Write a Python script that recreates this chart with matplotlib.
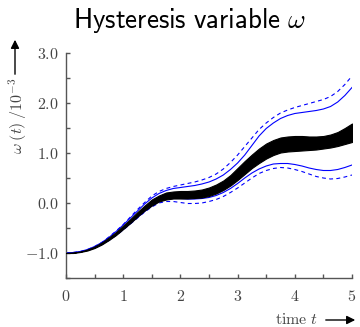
import matplotlib
matplotlib.use("Agg")
import matplotlib.pyplot as plt
import numpy as np
from matplotlib.patches import FancyArrowPatch
from matplotlib.ticker import FuncFormatter, MultipleLocator

plt.rcParams['mathtext.fontset'] = 'cm'

# sample times and curves (in units of 10^-3)
t = np.arange(0, 5.001, 0.125)
band_lo = [-1.0, -1.0, -0.98, -0.95, -0.90, -0.83, -0.74, -0.64, -0.52, -0.40, -0.27,
           -0.15, -0.05, 0.03, 0.07, 0.09, 0.09, 0.09, 0.10, 0.11, 0.14, 0.19, 0.26,
           0.35, 0.46, 0.58, 0.70, 0.80, 0.89, 0.96, 1.01, 1.03, 1.04, 1.05, 1.06,
           1.07, 1.09, 1.11, 1.14, 1.18, 1.22]
band_hi = [-1.0, -0.99, -0.97, -0.93, -0.87, -0.79, -0.69, -0.58, -0.45, -0.32, -0.18,
           -0.05, 0.07, 0.15, 0.21, 0.23, 0.24, 0.24, 0.25, 0.27, 0.31, 0.37, 0.45,
           0.56, 0.70, 0.84, 0.97, 1.09, 1.19, 1.26, 1.31, 1.33, 1.34, 1.34, 1.33,
           1.33, 1.34, 1.37, 1.42, 1.50, 1.59]
upper_solid = [-1.0, -0.99, -0.97, -0.93, -0.87, -0.79, -0.69, -0.57, -0.44, -0.30,
               -0.16, -0.02, 0.10, 0.19, 0.25, 0.29, 0.31, 0.33, 0.35, 0.38, 0.42,
               0.48, 0.56, 0.67, 0.80, 0.96, 1.15, 1.34, 1.49, 1.60, 1.69, 1.75, 1.79,
               1.81, 1.83, 1.85, 1.88, 1.93, 2.02, 2.15, 2.31]
upper_dash = [-1.0, -0.99, -0.97, -0.93, -0.87, -0.79, -0.68, -0.56, -0.43, -0.28,
              -0.13, 0.01, 0.14, 0.23, 0.29, 0.33, 0.36, 0.39, 0.42, 0.46, 0.51, 0.58,
              0.68, 0.81, 0.96, 1.13, 1.30, 1.47, 1.60, 1.71, 1.80, 1.86, 1.91, 1.95,
              1.99, 2.03, 2.07, 2.13, 2.23, 2.37, 2.54]
lower_solid = [-1.0, -1.0, -0.98, -0.95, -0.90, -0.83, -0.74, -0.64, -0.53, -0.41,
               -0.29, -0.17, -0.06, 0.03, 0.08, 0.09, 0.09, 0.08, 0.08, 0.09, 0.11,
               0.15, 0.21, 0.29, 0.39, 0.50, 0.60, 0.68, 0.74, 0.78, 0.79, 0.79, 0.77,
               0.74, 0.70, 0.67, 0.65, 0.65, 0.67, 0.71, 0.76]
lower_dash = [-1.0, -1.0, -0.98, -0.95, -0.90, -0.83, -0.75, -0.65, -0.54, -0.42,
              -0.30, -0.18, -0.08, 0.0, 0.03, 0.03, 0.01, -0.01, -0.01, 0.0, 0.03,
              0.07, 0.13, 0.21, 0.30, 0.40, 0.50, 0.59, 0.65, 0.69, 0.71, 0.70, 0.67,
              0.63, 0.58, 0.53, 0.50, 0.48, 0.49, 0.52, 0.56]

spine_col = '#555555'
label_col = '#444444'

fig = plt.figure(figsize=(3.6, 3.27), dpi=100)
ax = fig.add_axes([66 / 360, 1 - 278 / 327, (352 - 66) / 360, (278 - 53) / 327])

# sample-path band drawn over the bounds, so they only show outside it
ax.plot(t, upper_solid, color='#0000ff', lw=0.8, zorder=2)
ax.plot(t, lower_solid, color='#0000ff', lw=0.8, zorder=2)
ax.plot(t, upper_dash, color='#0000ff', lw=0.8, dashes=(3.5, 3), zorder=2)
ax.plot(t, lower_dash, color='#0000ff', lw=0.8, dashes=(3.5, 3), zorder=2)
ax.fill_between(t, band_lo, band_hi, color='black', lw=0.8, zorder=3)

ax.set_xlim(0, 5)
ax.set_ylim(-1.5, 3.0)
for s in ['top', 'right']:
    ax.spines[s].set_visible(False)
for s in ['left', 'bottom']:
    ax.spines[s].set_color(spine_col)
    ax.spines[s].set_linewidth(1.0)

ax.xaxis.set_major_locator(MultipleLocator(1))
ax.xaxis.set_minor_locator(MultipleLocator(0.5))
ax.yaxis.set_major_locator(MultipleLocator(1))
ax.yaxis.set_minor_locator(MultipleLocator(0.5))
ax.xaxis.set_major_formatter(FuncFormatter(lambda v, p: f'${v:.0f}$'))
ax.yaxis.set_major_formatter(FuncFormatter(lambda v, p: f'${v:.1f}$'))
ax.tick_params(which='both', direction='in', length=3, width=1.0, color=spine_col,
               labelcolor=label_col, labelsize=11.5)
ax.tick_params(axis='y', pad=5)
ax.tick_params(axis='x', pad=8)

fig.text(190 / 360, 1 - 28 / 327, r'$\mathsf{Hysteresis\ variable}\ \omega$',
         ha='center', va='baseline', fontsize=19.5)

# y label with arrow
fig.text(18 / 360, 1 - 116 / 327, r'$\omega\;(t)\;/10^{-3}$', rotation=90,
         ha='center', va='center', fontsize=11.5, color=label_col)
fig.patches.append(FancyArrowPatch(
    (15 / 360, 1 - 77 / 327), (15 / 360, 1 - 37 / 327), transform=fig.transFigure,
    arrowstyle='-|>,head_length=5,head_width=2.5', color='black', lw=1.0,
    mutation_scale=1))

# x label with arrow
fig.text(297 / 360, 1 - 319 / 327, r'$\mathrm{time}\ t$', ha='center', va='center',
         fontsize=11.5, color=label_col)
fig.patches.append(FancyArrowPatch(
    (323 / 360, 1 - 320 / 327), (358 / 360, 1 - 320 / 327), transform=fig.transFigure,
    arrowstyle='-|>,head_length=5,head_width=2.5', color='black', lw=1.0,
    mutation_scale=1))

fig.savefig('out.png', dpi=100)
